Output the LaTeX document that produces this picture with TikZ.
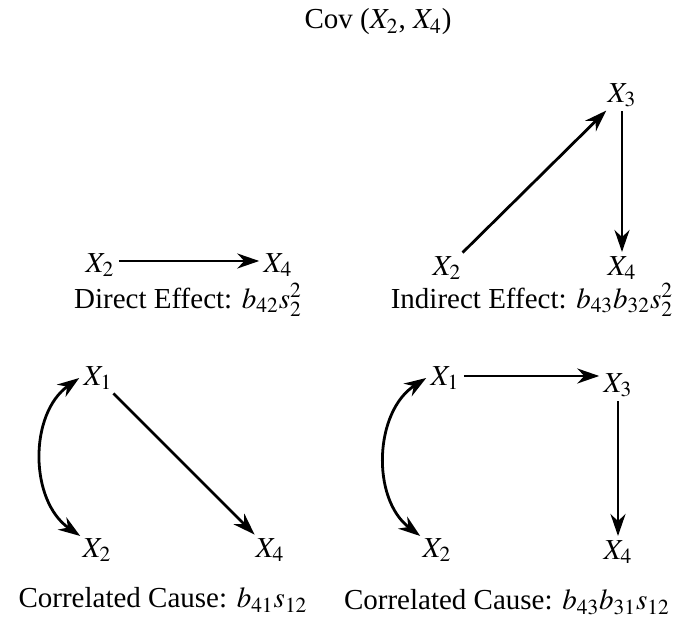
\documentclass[tikz,border=0pt]{standalone}
\usepackage{mathptmx}
\usepackage{fontspec}
\setmainfont{Liberation Serif}
\usetikzlibrary{arrows.meta}

\begin{document}
\begin{tikzpicture}[x=.5pt,y=-.5pt,every node/.style={font=\fontsize{14.5}{16}\selectfont,inner sep=1pt},
    arr/.style={line width=1.4pt,shorten <=1pt,shorten >=1pt,-{Stealth[length=11pt,width=7.5pt]}},
    corr/.style={line width=1.4pt,{Stealth[length=11pt,width=7.5pt]}-{Stealth[length=11pt,width=7.5pt]}}]
    \useasboundingbox (0,0) rectangle (681,624);
    \node (title) at (378,22) {Cov ($X_2$, $X_4$)};
    % direct effect
    \node (dX2) at (100,265) {$X_2$}; \node (dX4) at (278,265) {$X_4$};
    \draw[arr] ([yshift=2pt]dX2.east) -- ([yshift=2pt]dX4.west);
    \node (dlab) at (188,300) {Direct Effect: $b_{42}s_2^2$};
    % indirect effect
    \node (iX3) at (622,95) {$X_3$}; \node (iX2) at (447,268) {$X_2$}; \node (iX4) at (622,268) {$X_4$};
    \draw[arr] (iX2) -- (iX3); \draw[arr] (iX3) -- (iX4);
    \node (ilab) at (532,300) {Indirect Effect: $b_{43}b_{32}s_2^2$};
    % correlated cause, left
    \node (cX1) at (98,378) {$X_1$}; \node (cX2) at (97,550) {$X_2$}; \node (cX4) at (270,550) {$X_4$};
    \draw[corr] ([xshift=-1pt]cX1.west) to[bend right=55] (cX2.north west);
    \draw[arr] (cX1) -- (cX4);
    \node (clab) at (163,600) {Correlated Cause: $b_{41}s_{12}$};
    % correlated cause, right
    \node (pX1) at (445,378) {$X_1$}; \node (pX3) at (618,385) {$X_3$};
    \node (pX2) at (437,550) {$X_2$}; \node (pX4) at (618,552) {$X_4$};
    \draw[corr] ([xshift=-1pt]pX1.west) to[bend right=55] (pX2.north west);
    \draw[arr] ([yshift=1pt]pX1.east) -- ([yshift=1pt]pX1.east -| pX3.west); \draw[arr] (pX3) -- (pX4);
    \node (plab) at (507,602) {Correlated Cause: $b_{43}b_{31}s_{12}$};
\end{tikzpicture}
\end{document}
